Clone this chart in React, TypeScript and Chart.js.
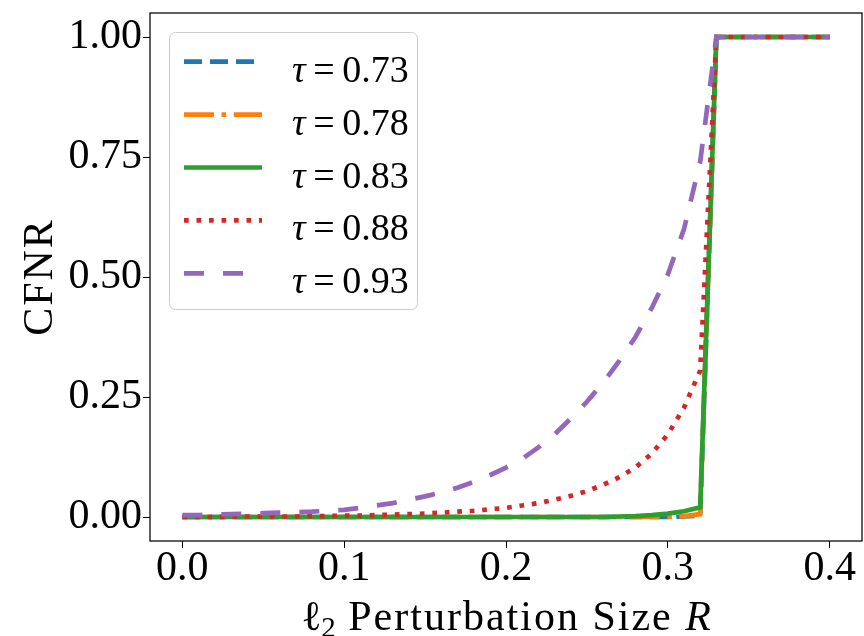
import React, { useEffect, useRef } from "react";
import { Chart, registerables } from "chart.js";

Chart.register(...registerables);

// ---- data ----
const radii = [
  0.0, 0.01, 0.02, 0.03, 0.04, 0.05, 0.06, 0.07, 0.08, 0.09,
  0.1, 0.11, 0.12, 0.13, 0.14, 0.15, 0.16, 0.17, 0.18, 0.19,
  0.2, 0.21, 0.22, 0.23, 0.24, 0.25, 0.26, 0.27, 0.28, 0.29,
  0.3, 0.31, 0.32, 0.33, 0.34, 0.35, 0.36, 0.37, 0.38, 0.39, 0.4,
];

const cfnrTau073 = [
  0, 0, 0, 0, 0, 0, 0, 0, 0, 0,
  0, 0, 0, 0, 0, 0, 0, 0, 0, 0,
  0, 0, 0, 0, 0, 0, 0, 0, 0, 0,
  0, 0.001, 0.003, 1, 1, 1, 1, 1, 1, 1, 1,
];

const cfnrTau078 = [
  0, 0, 0, 0, 0, 0, 0, 0, 0, 0,
  0, 0, 0, 0, 0, 0, 0, 0, 0, 0,
  0, 0, 0, 0, 0, 0, 0, 0, 0, 0,
  0, 0.002, 0.006, 1, 1, 1, 1, 1, 1, 1, 1,
];

const cfnrTau083 = [
  0, 0, 0, 0, 0, 0, 0, 0, 0, 0,
  0, 0, 0, 0, 0, 0, 0, 0, 0, 0,
  0, 0, 0, 0, 0, 0, 0, 0.001, 0.002, 0.004,
  0.007, 0.012, 0.02, 1, 1, 1, 1, 1, 1, 1, 1,
];

const cfnrTau088 = [
  0.0, 0.0, 0.0, 0.001, 0.001, 0.001, 0.001, 0.001, 0.002, 0.002,
  0.003, 0.003, 0.004, 0.005, 0.006, 0.007, 0.009, 0.011, 0.013, 0.016,
  0.019, 0.024, 0.029, 0.036, 0.044, 0.054, 0.067, 0.083, 0.103, 0.132,
  0.172, 0.228, 0.305, 1, 1, 1, 1, 1, 1, 1, 1,
];

const cfnrTau093 = [
  0.004, 0.004, 0.005, 0.006, 0.007, 0.008, 0.009, 0.01, 0.011, 0.013,
  0.015, 0.019, 0.024, 0.029, 0.036, 0.043, 0.051, 0.061, 0.073, 0.087,
  0.103, 0.121, 0.145, 0.172, 0.205, 0.24, 0.28, 0.325, 0.375, 0.435,
  0.505, 0.6, 0.74, 1, 1, 1, 1, 1, 1, 1, 1,
];

const tauValues = ["0.73", "0.78", "0.83", "0.88", "0.93"];
const seriesValues = [cfnrTau073, cfnrTau078, cfnrTau083, cfnrTau088, cfnrTau093];
const xTickValues = [0.0, 0.1, 0.2, 0.3, 0.4];
const yTickValues = [0.0, 0.25, 0.5, 0.75, 1.0];
const xTitleMain = " Perturbation Size ";
const yTitle = "CFNR";

// ---- styles ----
const FONT = '"Liberation Serif", "DejaVu Serif", serif';
const seriesStyles = [
  { color: "#1f77b4", dash: [18, 8], width: 4.7 },
  { color: "#ff7f0e", dash: [30, 7.5, 4.7, 7.5], width: 4.7 },
  { color: "#2ca02c", dash: [] as number[], width: 4.7 },
  { color: "#d62728", dash: [4.7, 7.8], width: 4.7 },
  { color: "#9467bd", dash: [20, 19], width: 4.7 },
];

const framePlugin = {
  id: "frame",
  afterDatasetsDraw(chart: any) {
    const { ctx, chartArea: a } = chart;
    ctx.save();
    ctx.strokeStyle = "#000";
    ctx.lineWidth = 1.25;
    ctx.strokeRect(a.left, a.top, a.right - a.left, a.bottom - a.top);
    ctx.restore();
  },
};

const legendPlugin = {
  id: "insideLegend",
  afterDraw(chart: any) {
    const ctx = chart.ctx;
    ctx.save();
    ctx.beginPath();
    ctx.roundRect(169.5, 32.5, 248, 277, 6);
    ctx.fillStyle = "rgba(255,255,255,0.8)";
    ctx.fill();
    ctx.strokeStyle = "#cccccc";
    ctx.lineWidth = 1;
    ctx.stroke();
    chart.data.datasets.forEach((ds: any, i: number) => {
      const y = 61.7 + i * 52.9;
      ctx.beginPath();
      ctx.setLineDash(ds.borderDash || []);
      ctx.strokeStyle = ds.borderColor;
      ctx.lineWidth = ds.borderWidth;
      ctx.moveTo(184, y);
      ctx.lineTo(262, y);
      ctx.stroke();
      ctx.setLineDash([]);
      ctx.fillStyle = "#000";
      ctx.textAlign = "left";
      ctx.textBaseline = "alphabetic";
      ctx.font = `italic 38px ${FONT}`;
      ctx.fillText("τ", 292, y + 20);
      const w = ctx.measureText("τ").width;
      ctx.font = `38px ${FONT}`;
      ctx.fillText("\u2009=\u2009" + tauValues[i], 292 + w, y + 20);
    });
    ctx.restore();
  },
};

const titlesPlugin = {
  id: "axisTitles",
  afterDraw(chart: any) {
    const { ctx, chartArea: a } = chart;
    ctx.save();
    ctx.fillStyle = "#000";
    ctx.textAlign = "left";
    ctx.textBaseline = "alphabetic";
    const parts = [
      { t: "ℓ", f: `42px ${FONT}`, dy: 0, ls: "0px" },
      { t: "2", f: `29px ${FONT}`, dy: 7, ls: "0px" },
      { t: xTitleMain, f: `42px ${FONT}`, dy: 0, ls: "2px" },
      { t: "R", f: `italic 42px ${FONT}`, dy: 0, ls: "0px" },
    ];
    let total = 0;
    const widths = parts.map((p) => {
      ctx.font = p.f;
      (ctx as any).letterSpacing = p.ls;
      const w = ctx.measureText(p.t).width;
      total += w;
      return w;
    });
    let x = (a.left + a.right) / 2 - total / 2;
    const base = 630;
    parts.forEach((p, i) => {
      ctx.font = p.f;
      (ctx as any).letterSpacing = p.ls;
      ctx.fillText(p.t, x, base + p.dy);
      x += widths[i];
    });
    (ctx as any).letterSpacing = "2px";
    ctx.translate(52, (a.top + a.bottom) / 2);
    ctx.rotate(-Math.PI / 2);
    ctx.textAlign = "center";
    ctx.font = `42px ${FONT}`;
    ctx.fillText(yTitle, 0, 0);
    ctx.restore();
  },
};

export default function App() {
  const ref = useRef<HTMLCanvasElement>(null);
  useEffect(() => {
    if (!ref.current) return;
    const datasets = seriesValues.map((vals, i) => ({
      label: "τ=" + tauValues[i],
      data: radii.map((r, j) => ({ x: r, y: vals[j] })),
      borderColor: seriesStyles[i].color,
      backgroundColor: seriesStyles[i].color,
      borderWidth: seriesStyles[i].width,
      borderDash: seriesStyles[i].dash,
      pointRadius: 0,
      tension: 0,
      fill: false,
      order: 5 - i,
    }));
    const chart = new Chart(ref.current, {
      type: "line",
      data: { datasets },
      options: {
        animation: false,
        responsive: false,
        devicePixelRatio: 1,
        layout: { padding: { top: 13, right: 2, left: 0, bottom: 0 } },
        plugins: { legend: { display: false }, tooltip: { enabled: false } },
        scales: {
          x: {
            type: "linear",
            min: -0.02,
            max: 0.42,
            afterBuildTicks: (s: any) => {
              s.ticks = xTickValues.map((v) => ({ value: v }));
            },
            afterFit: (s: any) => {
              s.height = 95;
              s.paddingLeft = 0;
              s.paddingRight = 0;
            },
            grid: { display: true, drawOnChartArea: false, drawTicks: true, tickLength: 7, tickColor: "#000", lineWidth: 1 },
            border: { display: false },
            ticks: {
              autoSkip: false,
              maxRotation: 0,
              minRotation: 0,
              padding: 0,
              color: "#000",
              font: { family: FONT, size: 42, lineHeight: 1 },
              callback: (v: any) => Number(v).toFixed(1),
            },
          },
          y: {
            type: "linear",
            min: -0.05,
            max: 1.05,
            afterBuildTicks: (s: any) => {
              s.ticks = yTickValues.map((v) => ({ value: v }));
            },
            afterFit: (s: any) => {
              s.width = 150;
              s.paddingTop = 0;
              s.paddingBottom = 0;
            },
            grid: { display: true, drawOnChartArea: false, drawTicks: true, tickLength: 7, tickColor: "#000", lineWidth: 1 },
            border: { display: false },
            ticks: {
              autoSkip: false,
              padding: 1,
              color: "#000",
              font: { family: FONT, size: 42, lineHeight: 1 },
              callback: (v: any) => Number(v).toFixed(2),
            },
          },
        },
      },
      plugins: [framePlugin, legendPlugin, titlesPlugin],
    });
    return () => chart.destroy();
  }, []);
  return (
    <div style={{ position: "fixed", left: 0, top: 0, width: 864, height: 636, background: "#fff" }}>
      <canvas ref={ref} width={864} height={636} style={{ display: "block" }} />
    </div>
  );
}
